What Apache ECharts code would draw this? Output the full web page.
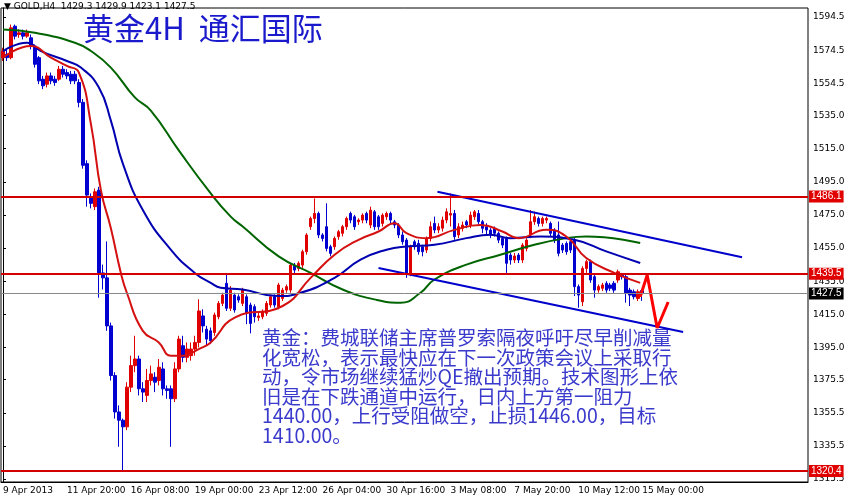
<!DOCTYPE html>
<html><head><meta charset="utf-8">
<script src="https://cdn.jsdelivr.net/npm/echarts@6/dist/echarts.min.js"></script>
<style>html,body{margin:0;padding:0;background:#fff}#c{width:850px;height:501px}</style>
</head><body><div id="c"></div>
<script>
// [open, close, low, high]
const candles = [
[1570,1574,1568,1576],[1572,1570,1568,1575],[1570,1588,1569,1590],[1589,1583,1581,1590],[1584,1585,1582,1587],
[1585,1583,1581,1587],[1583,1585,1582,1587],[1582,1577,1575,1584],[1577,1566,1564,1578],[1570,1556,1554,1571],
[1557,1553,1551,1559],[1554,1559,1552,1561],[1559,1556,1554,1561],[1557,1555,1553,1559],[1557,1563,1556,1565],
[1563,1560,1558,1565],[1561,1559,1557,1563],[1560,1556,1554,1562],[1560,1556,1554,1562],[1555,1543,1540,1557],
[1543,1505,1503,1545],[1506,1487,1480,1508],[1486,1482,1479,1488],[1480,1489,1478,1491],[1490,1440,1425,1492],
[1440,1437,1430,1445],[1437,1408,1405,1459],[1408,1378,1375,1410],[1378,1356,1352,1380],[1356,1351,1335,1360],
[1351,1347,1320,1352],[1347,1371,1345,1374],[1371,1384,1368,1390],[1384,1388,1380,1402],[1388,1370,1366,1390],
[1370,1368,1362,1374],[1366,1375,1362,1382],[1375,1379,1372,1384],[1377,1374,1368,1380],[1375,1383,1372,1388],
[1382,1370,1366,1386],[1370,1369,1364,1372],[1370,1364,1335,1372],[1364,1382,1362,1386],[1382,1400,1380,1402],
[1396,1389,1386,1402],[1389,1394,1386,1398],[1390,1394,1387,1398],[1394,1398,1390,1402],[1398,1417,1395,1424],
[1414,1408,1404,1418],[1406,1400,1396,1408],[1405,1399,1397,1407],[1404,1414.6,1402,1416],[1413.5,1421.6,1412,1423],
[1421.6,1426.6,1420,1428],[1433.7,1418.6,1417,1439],[1418.6,1429.6,1417,1432],[1426.6,1417.6,1416,1428],[1425.6,1423.6,1422,1427],
[1421.6,1429.6,1420,1431],[1425.6,1415.6,1409,1427],[1420.6,1409.5,1403.5,1422],[1419.6,1413.5,1410,1421],[1413,1414,1411,1416],
[1413.5,1416.6,1412,1418],[1415.6,1421.6,1414,1423],[1420.6,1425.6,1419,1427],[1425.6,1420.6,1419,1427],[1419.6,1432.7,1418,1434],
[1424.6,1429.6,1423,1431],[1429.6,1431.7,1428,1433],[1429.6,1444.7,1428,1446],[1444.7,1441.7,1440,1446],[1442.7,1445.8,1441,1447],
[1444.7,1452.8,1443,1454],[1452.8,1462.9,1451,1464],[1467.9,1472.9,1466,1474],[1472.9,1475.9,1470,1485],[1475.9,1462.9,1461,1477],
[1462.9,1460.8,1459,1464],[1467.9,1454.8,1453,1482],[1455.8,1451.8,1450,1457],[1455.8,1460.8,1454,1462],[1461.9,1464.9,1460,1466],
[1463.9,1467.9,1462,1469],[1467.9,1472.9,1466,1474],[1475.9,1471.9,1470,1477],[1473.9,1467.9,1466,1475],[1470.9,1471.9,1469,1473],
[1471.9,1474.9,1470,1476],[1475.9,1471.9,1470,1477],[1468.9,1477.9,1467,1480],[1476.9,1467.9,1466,1478],[1473.9,1467.9,1466,1475],
[1469.9,1474.9,1468,1476],[1473.9,1475.9,1472,1477],[1475.9,1471.9,1470,1477],[1470.9,1468.9,1467,1472],[1468.9,1462.9,1461,1470],
[1462.9,1458.8,1457,1465],[1459.8,1439.7,1437,1461],[1439.7,1455.8,1438,1457],[1458.8,1455.8,1454,1460],[1457.8,1452.8,1451,1460],
[1455.8,1452.8,1450,1457],[1453.8,1460.8,1452,1462],[1460.8,1467.9,1459,1471],[1469.9,1465.9,1464,1474],[1465.9,1467.9,1464,1470],
[1467,1471.9,1465,1474],[1471.9,1476.9,1470,1479],[1474.9,1475.9,1468,1488],[1475.9,1461.9,1460,1478],[1462.9,1467.9,1461,1470],
[1466.9,1468.9,1465,1471],[1470.9,1468.9,1467,1472],[1468.9,1474.9,1467,1477],[1473.9,1476.9,1472,1478],[1475.9,1470.9,1469,1478],
[1470.9,1466.9,1464,1472],[1467.9,1465.9,1463,1470],[1465.9,1462.9,1461,1467],[1466.9,1463.9,1462,1468],[1463.9,1459.8,1458,1465],
[1460.8,1456.8,1455,1462],[1460.8,1445.8,1440,1462],[1450.8,1447.8,1445,1452],[1447.8,1450.2,1446,1452],[1450.8,1447.8,1446,1452],
[1447.8,1456.8,1446,1458],[1454.8,1459.8,1453,1461],[1462.9,1470.9,1461,1478],[1470.9,1473.9,1469,1477],[1472.9,1469.9,1468,1474],
[1469.9,1472.9,1468,1474],[1471.9,1472.9,1470,1474],[1469.9,1463.9,1462,1471],[1465.9,1459.8,1458,1467],[1462.9,1451.8,1450,1471],
[1456.8,1453.8,1452,1458],[1457.8,1452.8,1451,1459],[1458.8,1453.8,1452,1460],[1459.8,1431.7,1426,1461],[1431.7,1426.6,1419,1433],
[1422.6,1442.7,1420,1444],[1442.7,1446.8,1440,1448],[1446.8,1435.7,1434,1448],[1437.7,1429.6,1425,1439],[1429.6,1431.7,1428,1433],
[1430.7,1432.7,1429,1434],[1433.7,1429.6,1428,1435],[1432.7,1430.7,1429,1434],[1433.7,1429.6,1428,1435],[1435.7,1440.7,1434,1442],
[1438.7,1437.7,1436,1440],[1437.7,1427.6,1422,1439],[1429.6,1426.6,1420,1431],[1428.6,1425.6,1424,1430],[1424.6,1428.6,1423,1430],
[1429.3,1427.5,1423.1,1429.9]
];
const totalSlots = 202;
const dateLabels = ["9 Apr 2013","11 Apr 20:00","16 Apr 08:00","19 Apr 00:00","23 Apr 12:00","26 Apr 04:00","30 Apr 16:00","3 May 08:00","7 May 20:00","10 May 12:00","15 May 00:00"];
const maRed = [[0,1570],[7,1577],[12,1570],[16,1565],[19,1561],[22,1530],[24.5,1490],[27,1467],[29.5,1440],[31,1428],[35,1405],[39,1398],[42,1390],[45,1390],[49,1394],[52,1398],[58,1413],[70,1420],[77,1437],[83,1451],[89,1460],[94,1465],[98,1470],[101,1464],[106,1461],[113,1466],[119.5,1469],[125,1465],[129,1461],[136,1466],[141,1462],[146,1449],[153,1440],[159.5,1434]];
const maBlue = [[0,1574],[6,1579],[9.5,1574],[16,1568],[19.5,1564],[24,1552],[27,1532],[30,1506],[35,1478],[42,1454],[48,1440],[52,1434],[54.5,1431],[60,1430],[68.75,1426],[74.5,1428],[83,1437],[89.5,1448],[96,1454],[101,1456],[108,1457],[116,1461],[122,1463],[127,1461],[134.5,1462],[143,1460],[151,1453],[159.5,1446]];
const maGreen = [[0,1587],[8,1585],[18,1579],[22,1574],[27,1564],[33,1546],[37,1538],[44,1514],[52,1488],[57,1474],[60,1468],[69,1450],[77,1440],[85,1430],[93,1424],[99.5,1422],[104.5,1428],[108,1436],[116,1445],[124.5,1451],[133,1457],[141,1461],[146,1462],[159.5,1458]];
const channelUpper = [[108.75,1489],[185,1449.5]];
const channelLower = [[94,1443],[170.25,1404.3]];
const arrowPath = [[159.5,1425.5],[161.25,1438.7],[163.75,1406.7],[166.5,1422.4]];
const levels = [1486.1,1439.5,1320.4];
const lastPrice = 1427.5;
const yTicks = [1594.5,1574.5,1554.5,1535.0,1515.0,1495.0,1475.0,1455.0,1435.0,1415.0,1395.0,1375.5,1355.5,1335.5,1315.5];
const header = "▼ GOLD,H4  1429.3 1429.9 1423.1 1427.5";
const title = "黄金4H  通汇国际";
const note = ["黄金：费城联储主席普罗索隔夜呼吁尽早削减量","化宽松，表示最快应在下一次政策会议上采取行","动，令市场继续猛炒QE撤出预期。技术图形上依","旧是在下跌通道中运行，日内上方第一阻力","1440.00，上行受阻做空，止损1446.00，目标","1410.00。"];

const cats = [];
for (let i = 0; i < totalSlots; i++) cats.push(String(i));
const chart = echarts.init(document.getElementById('c'));
const lvlLine = (v, bg) => ({yAxis: v, lineStyle:{color: bg==='#000'?'#888':'#d40000', width: bg==='#000'?1:2, type:'solid'},
  label:{show:true, position:'end', formatter: v.toFixed(1), backgroundColor: bg, color:'#fff', fontSize:10, padding:[1,2], distance:1, fontFamily:'Liberation Sans'}});
chart.setOption({
  animation:false, backgroundColor:'#fff',
  grid:{left:0, right:42, top:8, bottom:19, show:true, borderColor:'#000', borderWidth:1},
  xAxis:[{type:'category', data:cats, boundaryGap:true,
    axisLine:{lineStyle:{color:'#000'}}, axisTick:{interval:15, length:3, lineStyle:{color:'#000'}},
    axisLabel:{interval:15, align:'left', fontSize:9, color:'#000', margin:4, fontFamily:'DejaVu Sans',
      formatter:(v, i)=> dateLabels[Math.round(i/16)] || ''}, splitLine:{show:false}},
    {type:'value', min:-0.5, max:totalSlots-0.5, show:false}],
  yAxis:{type:'value', position:'right', min:1313.7, max:1600, scale:true,
    axisLine:{show:true, lineStyle:{color:'#000'}},
    axisTick:{show:true, customValues:yTicks, length:3, lineStyle:{color:'#000'}},
    axisLabel:{customValues:yTicks, fontSize:9, color:'#000', margin:5, fontFamily:'DejaVu Sans', formatter:v=>v.toFixed(1)},
    splitLine:{show:false}},
  series:[
    {type:'line', xAxisIndex:1, data:maGreen, smooth:true, symbol:'none', lineStyle:{color:'#006400', width:2}},
    {type:'line', xAxisIndex:1, data:maBlue, smooth:true, symbol:'none', lineStyle:{color:'#0000b0', width:2}},
    {type:'line', xAxisIndex:1, data:maRed, smooth:true, symbol:'none', lineStyle:{color:'#d41010', width:2}},
    {type:'candlestick', data:candles, barWidth:3,
      itemStyle:{color:'#e00000', color0:'#0000d0', borderColor:'#e00000', borderColor0:'#0000d0', borderWidth:1},
      markLine:{symbol:'none', silent:true, animation:false,
        data:[lvlLine(levels[0],'#e00000'), lvlLine(levels[1],'#e00000'), lvlLine(levels[2],'#e00000'), lvlLine(lastPrice,'#000')]}},
    {type:'line', xAxisIndex:1, data:channelUpper, symbol:'none', lineStyle:{color:'#0000cc', width:2}},
    {type:'line', xAxisIndex:1, data:channelLower, symbol:'none', lineStyle:{color:'#0000cc', width:2}},
    {type:'line', xAxisIndex:1, data:arrowPath, symbol:'none', lineStyle:{color:'#ff0000', width:3}}
  ],
  graphic:[
    {type:'text', left:4, top:2, style:{text:header, fontSize:9, fill:'#000', fontFamily:'DejaVu Sans'}},
    {type:'text', left:83, top:13, style:{text:title, fontSize:31, fill:'#1a1acc', fontFamily:'Noto Sans CJK SC'}},
    {type:'text', left:262, top:328, style:{text:note.join('\n'), fontSize:19.5, lineHeight:19.5, fill:'#3a3acc', fontFamily:'Noto Sans CJK SC'}}
  ]
});
</script></body></html>
